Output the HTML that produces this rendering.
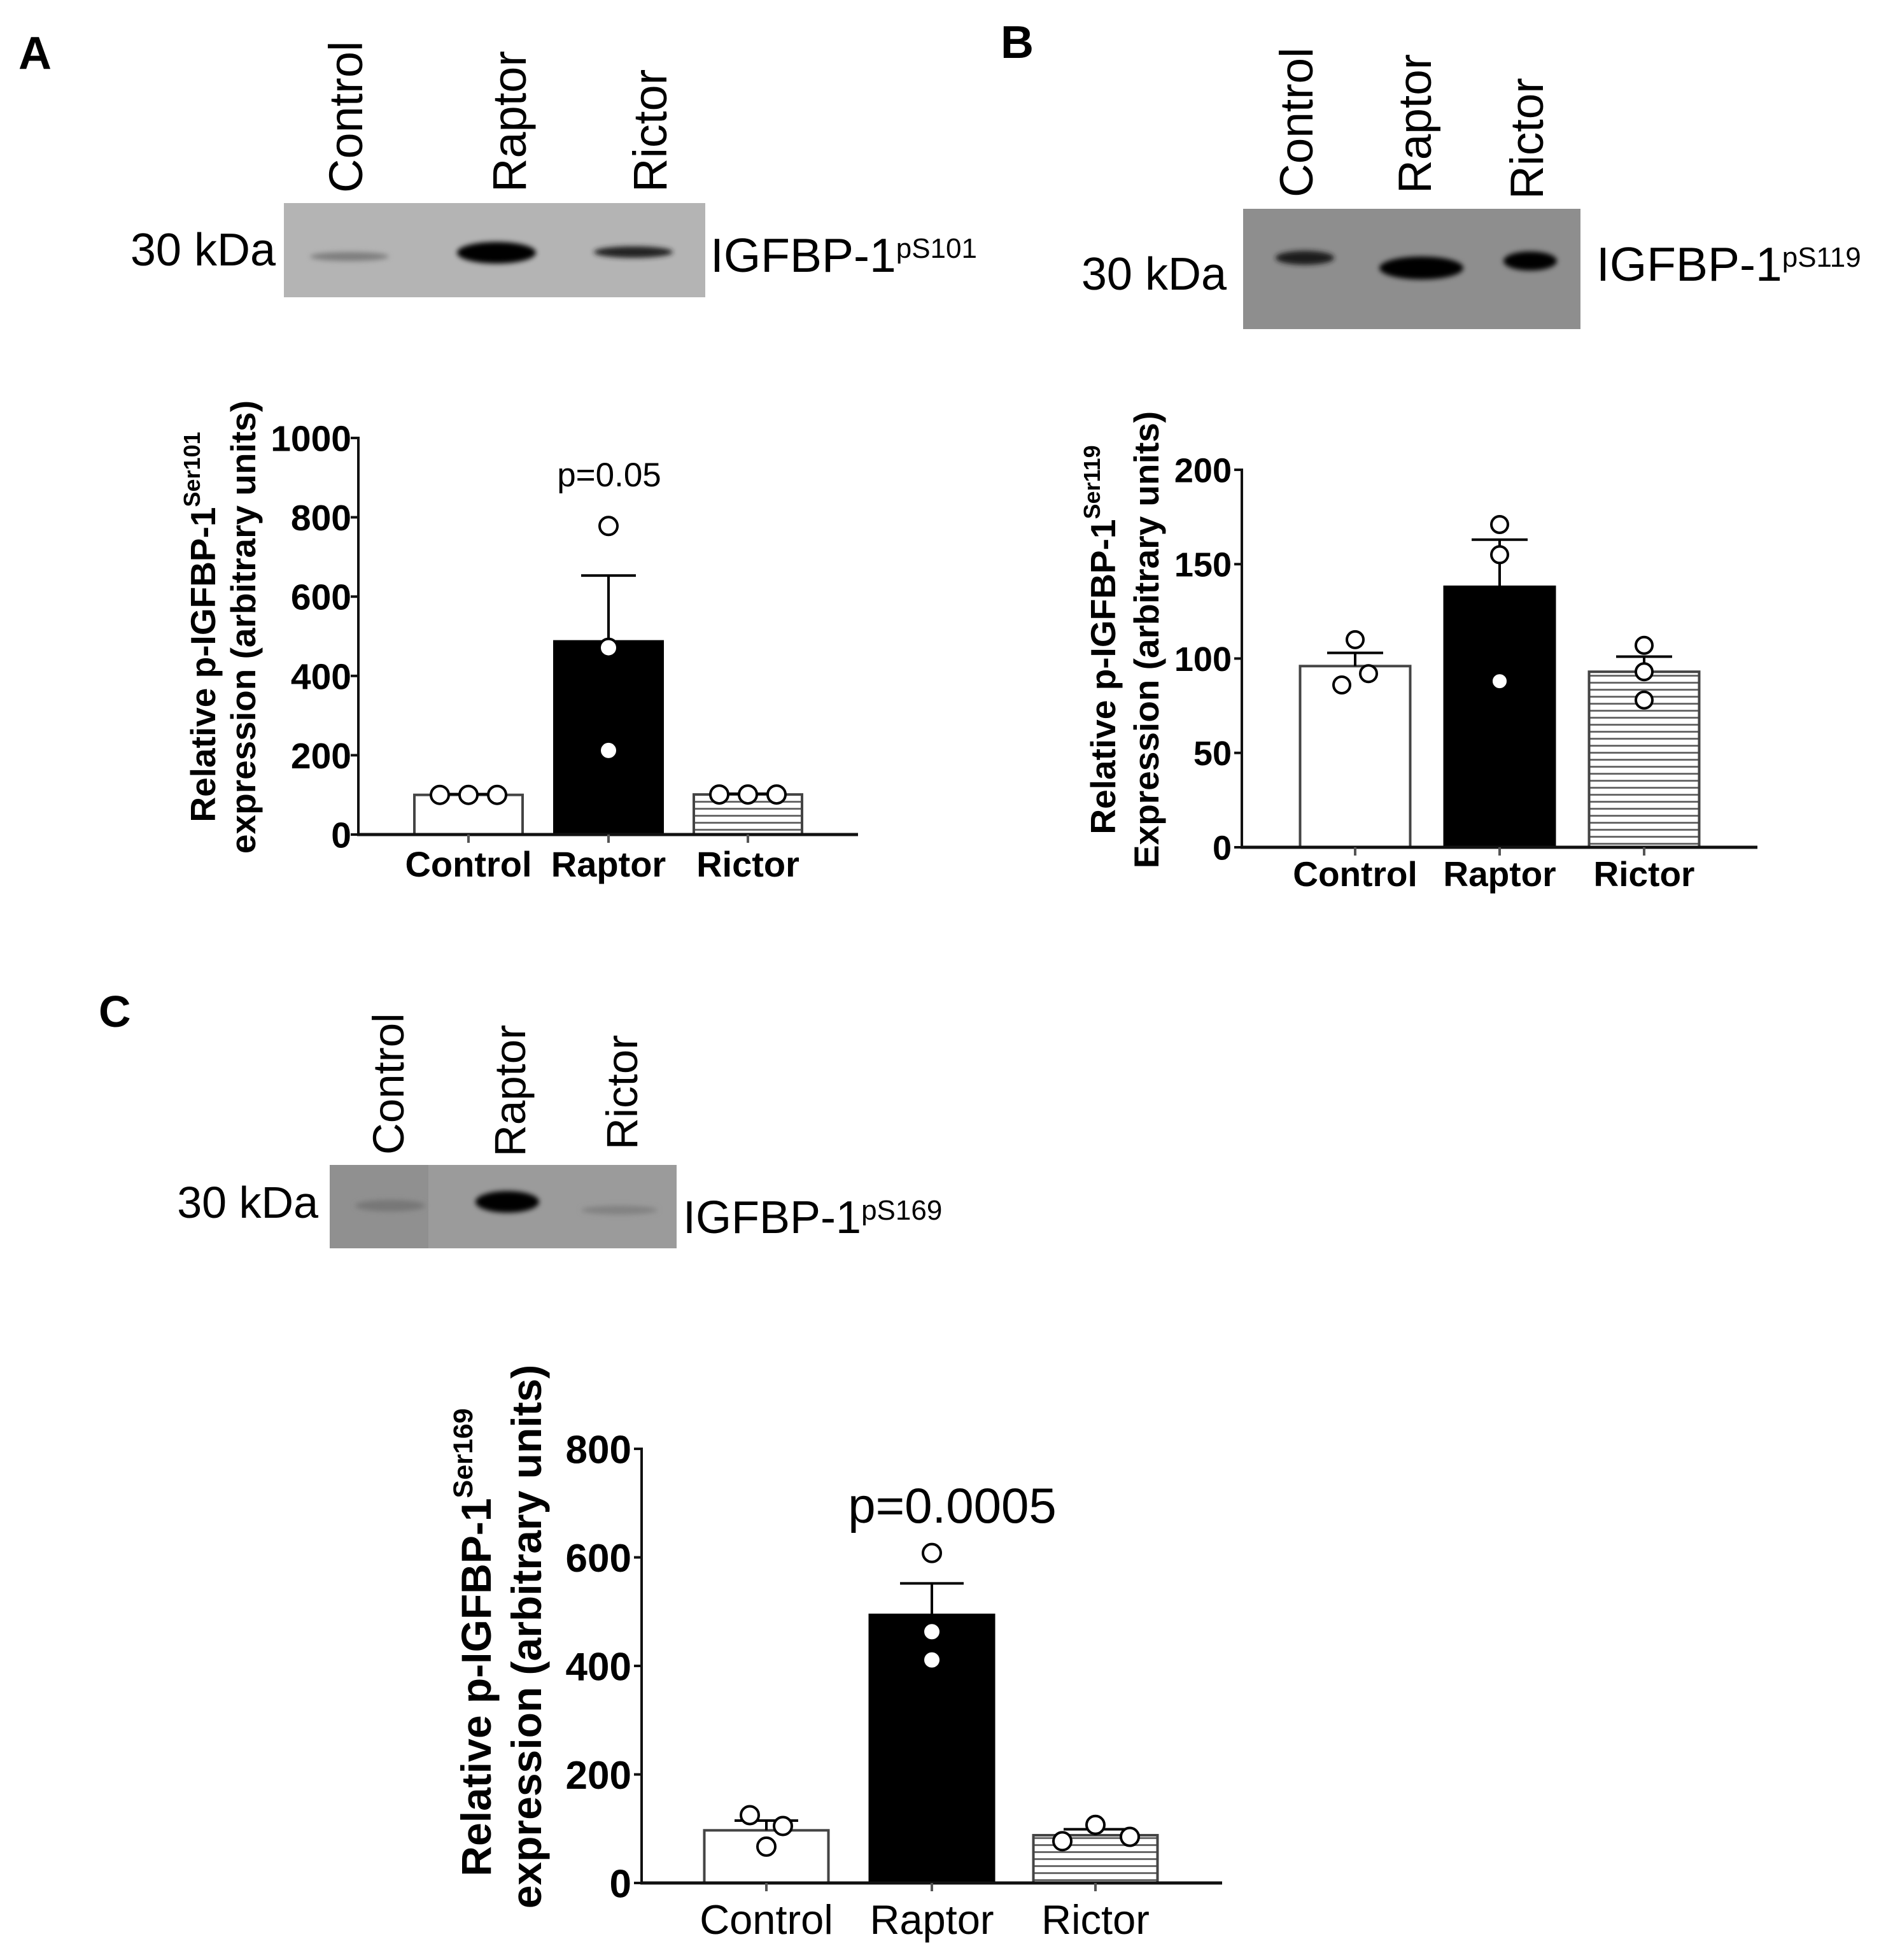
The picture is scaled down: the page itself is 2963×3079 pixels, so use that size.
<!DOCTYPE html>
<html><head><meta charset="utf-8">
<style>
html,body{margin:0;padding:0;background:#fff;}
svg{display:block;}
text{font-family:"Liberation Sans",Arial,sans-serif;}
</style></head>
<body>
<svg id="fig" xmlns="http://www.w3.org/2000/svg" width="2963" height="3079" viewBox="0 0 2963 3079">
<defs>
  <pattern id="hatch" patternUnits="userSpaceOnUse" width="20" height="11">
    <rect width="20" height="11" fill="#fff"/>
    <rect y="4" width="20" height="3" fill="#6a6a6a"/>
  </pattern>
  <filter id="blur6" x="-30%" y="-100%" width="160%" height="300%"><feGaussianBlur stdDeviation="6"/></filter>
  <filter id="blur4" x="-30%" y="-100%" width="160%" height="300%"><feGaussianBlur stdDeviation="4"/></filter>
</defs>

<text x="29" y="108" font-size="72" font-weight="bold">A</text>
<text x="1572" y="91" font-size="72" font-weight="bold">B</text>
<text x="155" y="1613" font-size="70" font-weight="bold">C</text>

<g>
  <rect x="446" y="319" width="662" height="148" fill="#b4b4b4"/>
  <ellipse cx="549" cy="403" rx="62" ry="7" fill="#7e7e7e" filter="url(#blur4)"/>
  <ellipse cx="780" cy="397" rx="62" ry="17" fill="#000" filter="url(#blur4)"/>
  <ellipse cx="995" cy="396" rx="62" ry="9" fill="#222" filter="url(#blur4)"/>
</g>
<text transform="translate(569,303) rotate(-90)" font-size="74">Control</text>
<text transform="translate(826,302) rotate(-90)" font-size="74">Raptor</text>
<text transform="translate(1047,302) rotate(-90)" font-size="74">Rictor</text>
<text x="433" y="417" font-size="72" text-anchor="end">30 kDa</text>
<text x="1116" y="427" font-size="75">IGFBP-1<tspan font-size="44" dy="-22">pS101</tspan></text>

<g>
  <rect x="1953" y="328" width="530" height="189" fill="#8e8e8e"/>
  <ellipse cx="2050" cy="405" rx="46" ry="11" fill="#1a1a1a" filter="url(#blur4)"/>
  <ellipse cx="2233" cy="421" rx="66" ry="18" fill="#000" filter="url(#blur4)"/>
  <ellipse cx="2404" cy="410" rx="42" ry="15" fill="#000" filter="url(#blur4)"/>
</g>
<text transform="translate(2062,310) rotate(-90)" font-size="73">Control</text>
<text transform="translate(2248,304) rotate(-90)" font-size="73">Raptor</text>
<text transform="translate(2424,313) rotate(-90)" font-size="73">Rictor</text>
<text x="1927" y="455" font-size="72" text-anchor="end">30 kDa</text>
<text x="2508" y="441" font-size="75">IGFBP-1<tspan font-size="44" dy="-22">pS119</tspan></text>

<g>
  <rect x="518" y="1830" width="545" height="131" fill="#9b9b9b"/>
  <rect x="518" y="1830" width="155" height="131" fill="#909090"/>
  <ellipse cx="613" cy="1894" rx="55" ry="9" fill="#777" filter="url(#blur4)"/>
  <ellipse cx="797" cy="1888" rx="50" ry="17" fill="#000" filter="url(#blur4)"/>
  <ellipse cx="973" cy="1901" rx="60" ry="7" fill="#828282" filter="url(#blur4)"/>
</g>
<text transform="translate(634,1814) rotate(-90)" font-size="69">Control</text>
<text transform="translate(825,1817) rotate(-90)" font-size="69">Raptor</text>
<text transform="translate(1001,1806) rotate(-90)" font-size="69">Rictor</text>
<text x="500" y="1913" font-size="70" text-anchor="end">30 kDa</text>
<text x="1073" y="1937" font-size="72">IGFBP-1<tspan font-size="44" dy="-21">pS169</tspan></text>

<text transform="translate(338,985) rotate(-90)" font-size="55" font-weight="bold" text-anchor="middle">Relative p-IGFBP-1<tspan font-size="36" dy="-24">Ser101</tspan></text>
<text transform="translate(401,985) rotate(-90)" font-size="55" font-weight="bold" text-anchor="middle">expression (arbitrary units)</text>
<text transform="translate(1752,1005) rotate(-90)" font-size="55" font-weight="bold" text-anchor="middle">Relative p-IGFBP-1<tspan font-size="36" dy="-24">Ser119</tspan></text>
<text transform="translate(1820,1005) rotate(-90)" font-size="55" font-weight="bold" text-anchor="middle">Expression (arbitrary units)</text>
<text transform="translate(771,2580) rotate(-90)" font-size="66" font-weight="bold" text-anchor="middle">Relative p-IGFBP-1<tspan font-size="43" dy="-29">Ser169</tspan></text>
<text transform="translate(850,2571) rotate(-90)" font-size="66" font-weight="bold" text-anchor="middle">expression (arbitrary units)</text>

<text x="957" y="764" font-size="53" text-anchor="middle">p=0.05</text>
<text x="1496" y="2392" font-size="78" text-anchor="middle">p=0.0005</text>

<g id="charts"></g>
</svg>
<script>
// ---- Chart A data ----
const catsA = ["Control", "Raptor", "Rictor"];
const meansA = [100, 487, 101];
const semA = [102, 653, 103];
const ptsA = [[100, 100, 100], [778, 471, 212], [101, 101, 101]];
const ticksA = [0, 200, 400, 600, 800, 1000];
// ---- Chart B data ----
const catsB = ["Control", "Raptor", "Rictor"];
const meansB = [96, 138, 93];
const semB = [103, 163, 101];
const ptsB = [[110, 92, 86], [171, 155, 88], [107, 93, 78]];
const ticksB = [0, 50, 100, 150, 200];
// ---- Chart C data ----
const catsC = ["Control", "Raptor", "Rictor"];
const meansC = [97, 494, 88];
const semC = [115, 552, 99];
const ptsC = [[125, 105, 67], [608, 463, 411], [77, 107, 85]];
const ticksC = [0, 200, 400, 600, 800];

const layoutA = {id:"a", x0:563, xEnd:1348, yTop:688, yZero:1311, max:1000, centers:[736,956,1175], barW:170, cap:86, r:14,
  jit:[[-45,0,45],[0,0,0],[-45,0,45]], tickFs:57, tickGap:11, catFs:56, catBold:true, catBase:1377, catDx:0};
const layoutB = {id:"b", x0:1951, xEnd:2761, yTop:738, yZero:1331, max:200, centers:[2129,2356,2583], barW:173, cap:88, r:13,
  jit:[[0,21,-21],[0,0,0],[0,0,0]], tickFs:54, tickGap:16, catFs:55, catBold:true, catBase:1392, catDx:0};
const layoutC = {id:"c", x0:1008, xEnd:1920, yTop:2276, yZero:2958, max:800, centers:[1204,1464,1721], barW:195, cap:100, r:14,
  jit:[[-26,26,0],[0,0,0],[-52,0,54]], tickFs:62, tickGap:16, catFs:65, catBold:false, catBase:3038, catDx:0};

const NS = "http://www.w3.org/2000/svg";
const root = document.getElementById("charts");
function mk(tag, attrs, parent) {
  const e = document.createElementNS(NS, tag);
  for (const k in attrs) e.setAttribute(k, attrs[k]);
  (parent || root).appendChild(e);
  return e;
}

function drawChart(L, cats, means, sem, pts, ticks) {
  const g = mk("g", {});
  
  
  const y = v => L.yZero - (v / L.max) * (L.yZero - L.yTop);
  const fills = ["#fff", "#000", "url(#hatch)"];
  cats.forEach((c, i) => {
    const cx = L.centers[i];
    const b = mk("rect", {x: cx - L.barW/2, y: y(means[i]), width: L.barW, height: L.yZero - y(means[i]),
      fill: fills[i], stroke: i === 1 ? "#000" : "#444", "stroke-width": 4}, g);
    
    
    if (sem[i] > means[i]) {
      const eb = mk("path", {d: `M${cx},${y(means[i])} V${y(sem[i])} M${cx - L.cap/2},${y(sem[i])} H${cx + L.cap/2}`,
        stroke: "#000", "stroke-width": 4, fill: "none"}, g);
      
      
    }
  });
  cats.forEach((c, i) => {
    pts[i].forEach((v, j) => {
      const p = mk("circle", {cx: L.centers[i] + L.jit[i][j], cy: y(v), r: L.r, fill: "#fff", stroke: "#000", "stroke-width": 4}, g);
      
      
    });
  });
  const ya = mk("line", {x1: L.x0, y1: L.yTop - 2, x2: L.x0, y2: L.yZero + 2, stroke: "#111", "stroke-width": 4}, g);
  
  
  const xa = mk("line", {x1: L.x0 - 2, y1: L.yZero, x2: L.xEnd, y2: L.yZero, stroke: "#111", "stroke-width": 5}, g);
  
  
  ticks.forEach(t => {
    const tk = mk("line", {x1: L.x0 - 12, y1: y(t), x2: L.x0, y2: y(t), stroke: "#111", "stroke-width": 4}, g);
    
    
    const tl = mk("text", {x: L.x0 - L.tickGap, y: y(t) + L.tickFs * 0.36, "font-size": L.tickFs, "font-weight": "bold", "text-anchor": "end"}, g);
    tl.textContent = t;
    
    
  });
  cats.forEach((c, i) => {
    const tk = mk("line", {x1: L.centers[i], y1: L.yZero, x2: L.centers[i], y2: L.yZero + 13, stroke: "#555", "stroke-width": 4}, g);
    
    
    const cl = mk("text", {x: L.centers[i] + L.catDx, y: L.catBase, "font-size": L.catFs, "font-weight": L.catBold ? "bold" : "normal", "text-anchor": "middle"}, g);
    cl.textContent = c;
    
    
  });
}
drawChart(layoutA, catsA, meansA, semA, ptsA, ticksA);
drawChart(layoutB, catsB, meansB, semB, ptsB, ticksB);
drawChart(layoutC, catsC, meansC, semC, ptsC, ticksC);
</script>
</body></html>
